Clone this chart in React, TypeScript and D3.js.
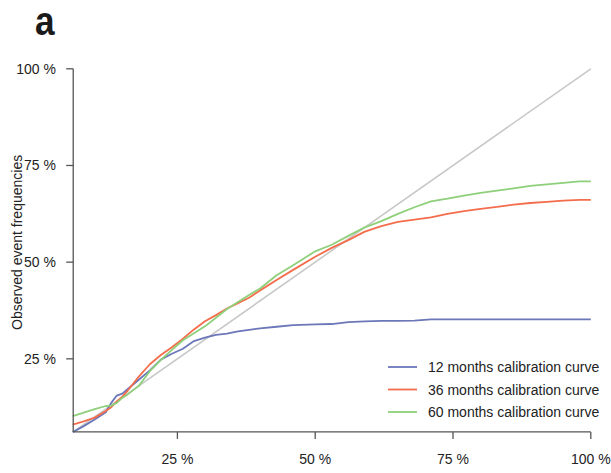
import React from "react";
import * as d3 from "d3";

const predicted = [6, 8, 10, 12, 13, 14, 15, 16, 18, 20, 22, 24, 26, 28, 30, 32, 34, 36, 38, 40, 43, 46, 50, 53, 56, 59, 62, 65, 68, 71, 74, 77, 80, 83, 86, 89, 92, 95, 98, 100];
const obs12 = [6.0, 7.6, 9.3, 11.2, 13.6, 15.5, 16.0, 17.2, 19.6, 22.0, 24.8, 26.3, 27.6, 29.6, 30.5, 31.2, 31.5, 32.1, 32.5, 32.9, 33.3, 33.7, 33.9, 34.0, 34.5, 34.7, 34.8, 34.8, 34.9, 35.2, 35.2, 35.2, 35.2, 35.2, 35.2, 35.2, 35.2, 35.2, 35.2, 35.2];
const obs36 = [8.0, 8.8, 9.8, 11.5, 12.5, 14.0, 15.2, 16.8, 20.4, 23.6, 26.0, 28.0, 30.2, 32.6, 34.7, 36.3, 38.0, 39.4, 40.8, 42.7, 45.4, 48.0, 51.4, 53.7, 55.7, 57.9, 59.3, 60.4, 61.0, 61.6, 62.5, 63.2, 63.8, 64.3, 64.9, 65.3, 65.6, 65.9, 66.1, 66.1];
const obs60 = [10.2, 11.1, 12.0, 12.8, 12.9, 13.6, 14.9, 15.8, 18.0, 21.8, 24.7, 27.3, 29.8, 31.6, 33.4, 35.6, 37.9, 39.7, 41.5, 43.2, 46.6, 49.2, 52.8, 54.5, 56.8, 59.0, 60.6, 62.5, 64.2, 65.7, 66.4, 67.2, 67.9, 68.5, 69.1, 69.7, 70.1, 70.5, 70.9, 70.9];

const seriesNames = ["12 months calibration curve", "36 months calibration curve", "60 months calibration curve"];
const seriesColors = ["#6b77b9", "#f36d4c", "#8ed07a"];
const seriesValues = [obs12, obs36, obs60];
const tickValues = [25, 50, 75, 100];
const axisMin = 6.1;

export default function App() {
  const W = 611, H = 473;
  const x = d3.scaleLinear().domain([0, 100]).range([39.6, 590.8]);
  const y = d3.scaleLinear().domain([0, 100]).range([455.5, 68.8]);
  const line = d3.line<[number, number]>().x(d => x(d[0])).y(d => y(d[1])).curve(d3.curveLinear);
  const font = "'Liberation Sans', Arial, Helvetica, sans-serif";
  const axisColor = "#555";
  const textColor = "#222";
  const x0 = x(axisMin), y0 = y(axisMin);
  const legendX = 388, legendY0 = 367, legendStep = 22.5;

  return (
    <svg width={W} height={H} style={{ position: "absolute", left: 0, top: 0, background: "#fff" }} fontFamily={font}>
      <text x={35} y={35} fontSize={40} fontWeight="bold" fill="#1a1a1a" transform="translate(35,0) scale(0.88,1) translate(-35,0)">a</text>

      {/* diagonal */}
      <path d={line([[axisMin, axisMin], [100, 100]]) || ""} stroke="#c8c8c8" strokeWidth={1.6} fill="none" />

      {seriesValues.map((vals, i) => (
        <path key={i} d={line(predicted.map((p, j) => [p, vals[j]] as [number, number])) || ""} stroke={seriesColors[i]} strokeWidth={1.8} fill="none" strokeLinejoin="round" />
      ))}

      {/* x axis */}
      <line x1={x0} x2={x(100)} y1={y0} y2={y0} stroke={axisColor} strokeWidth={1.3} />
      {tickValues.map(t => (
        <g key={"xt" + t}>
          <line x1={x(t)} x2={x(t)} y1={y0} y2={y0 + 7} stroke={axisColor} strokeWidth={1.3} />
          <text x={x(t)} y={464} fontSize={14} textAnchor="middle" fill={textColor}>{t + " %"}</text>
        </g>
      ))}

      {/* y axis */}
      <line x1={x0} x2={x0} y1={y0} y2={y(100)} stroke={axisColor} strokeWidth={1.3} />
      {tickValues.map(t => (
        <g key={"yt" + t}>
          <line x1={x0} x2={x0 - 7} y1={y(t)} y2={y(t)} stroke={axisColor} strokeWidth={1.3} />
          <text x={56} y={y(t) + 5} fontSize={14} textAnchor="end" fill={textColor}>{t + " %"}</text>
        </g>
      ))}
      <text transform={`translate(22,${(y0 + y(100)) / 2 - 8}) rotate(-90)`} fontSize={14} textAnchor="middle" fill={textColor}>Observed event frequencies</text>

      {/* legend */}
      {seriesNames.map((n, i) => (
        <g key={n}>
          <line x1={legendX} x2={legendX + 29} y1={legendY0 + i * legendStep} y2={legendY0 + i * legendStep} stroke={seriesColors[i]} strokeWidth={1.8} />
          <text x={428} y={legendY0 + i * legendStep + 5} fontSize={14} fill={textColor}>{n}</text>
        </g>
      ))}
    </svg>
  );
}
